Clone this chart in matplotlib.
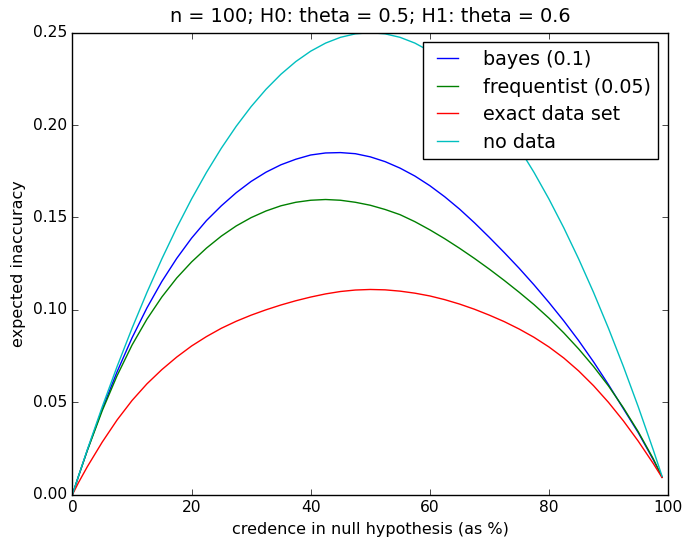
import matplotlib
matplotlib.use("Agg")
import matplotlib.pyplot as plt

plt.style.use("classic")

credence = [0, 1, 2.5, 5, 7.5, 10, 12.5, 15, 17.5, 20, 22.5, 25, 27.5, 30, 32.5, 35,
            37.5, 40, 42.5, 45, 47.5, 50, 52.5, 55, 57.5, 60, 62.5, 65, 67.5, 70,
            72.5, 75, 77.5, 80, 82.5, 85, 87.5, 90, 92.5, 95, 97.5, 99]

bayes = [0, 0.0098, 0.0240, 0.0463, 0.0665, 0.0848, 0.1010, 0.1153, 0.1278, 0.1388,
         0.1483, 0.1563, 0.1634, 0.1695, 0.1745, 0.1785, 0.1815, 0.1838, 0.1849, 0.1851,
         0.1845, 0.1828, 0.1802, 0.1767, 0.1724, 0.1672, 0.1612, 0.1545, 0.1471, 0.1392,
         0.1310, 0.1225, 0.1135, 0.1040, 0.0940, 0.0833, 0.0718, 0.0595, 0.0465, 0.0335,
         0.0190, 0.0095]

frequentist = [0, 0.0098, 0.0239, 0.0454, 0.0644, 0.0809, 0.0949, 0.1069, 0.1172, 0.1259,
               0.1334, 0.1399, 0.1454, 0.1499, 0.1535, 0.1563, 0.1582, 0.1593, 0.1597, 0.1593,
               0.1582, 0.1566, 0.1543, 0.1515, 0.1477, 0.1433, 0.1385, 0.1333, 0.1278, 0.1220,
               0.1159, 0.1095, 0.1028, 0.0955, 0.0875, 0.0788, 0.0693, 0.0588, 0.0470, 0.0340,
               0.0195, 0.0095]

exact = [0, 0.0064, 0.0151, 0.0284, 0.0404, 0.0509, 0.0599, 0.0676, 0.0744, 0.0804,
         0.0855, 0.0900, 0.0938, 0.0971, 0.1000, 0.1026, 0.1049, 0.1069, 0.1086, 0.1099,
         0.1107, 0.1110, 0.1108, 0.1101, 0.1090, 0.1075, 0.1055, 0.1031, 0.1003, 0.0971,
         0.0936, 0.0896, 0.0851, 0.0799, 0.0739, 0.0669, 0.0589, 0.0499, 0.0399, 0.0289,
         0.0169, 0.0092]

no_data = [0, 0.0099, 0.024375, 0.0475, 0.069375, 0.09, 0.109375, 0.1275, 0.144375, 0.16,
           0.174375, 0.1875, 0.199375, 0.21, 0.219375, 0.2275, 0.234375, 0.24, 0.244375, 0.2475,
           0.249375, 0.25, 0.249375, 0.2475, 0.244375, 0.24, 0.234375, 0.2275, 0.219375, 0.21,
           0.199375, 0.1875, 0.174375, 0.16, 0.144375, 0.1275, 0.109375, 0.09, 0.069375, 0.0475,
           0.024375, 0.0099]

labels = ["bayes (0.1)", "frequentist (0.05)", "exact data set", "no data"]
colors = ["b", "g", "r", "c"]
title = "n = 100; H0: theta = 0.5; H1: theta = 0.6"

fig = plt.figure(figsize=(6.85, 5.37), dpi=100, facecolor="white")
ax = fig.add_axes([0.1058, 0.0791, 0.9752 - 0.1058, 0.9391 - 0.0791])

for series, lab, col in zip([bayes, frequentist, exact, no_data], labels, colors):
    ax.plot(credence, series, color=col, label=lab, linewidth=1.0)

ax.set_xlim(0, 100)
ax.set_ylim(0, 0.25)
ax.set_xticks([0, 20, 40, 60, 80, 100])
ax.set_yticks([0.0, 0.05, 0.10, 0.15, 0.20, 0.25])
ax.set_yticklabels(["0.00", "0.05", "0.10", "0.15", "0.20", "0.25"])
ax.tick_params(labelsize=11.2)
ax.set_xlabel("credence in null hypothesis (as %)", fontsize=11.5)
ax.set_ylabel("expected inaccuracy", fontsize=11.5)
ax.set_title(title, fontsize=13.9, pad=8)

ax.legend(loc="upper right", fontsize=13.8, handlelength=1.7, numpoints=2,
          labelspacing=0.45, handletextpad=1.0, borderpad=0.4, borderaxespad=0.5,
          fancybox=False)

fig.savefig("out.png", dpi=100, facecolor="white")
